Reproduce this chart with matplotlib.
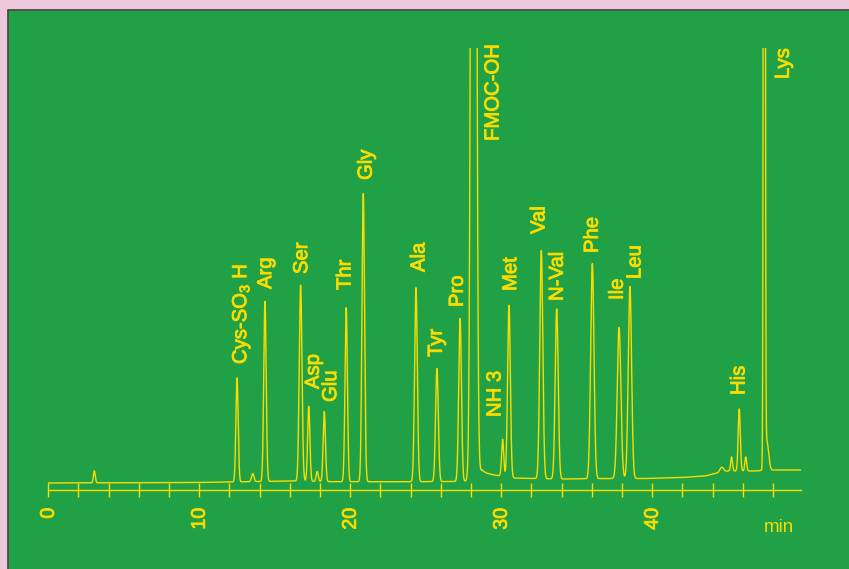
import numpy as np
import matplotlib
matplotlib.use("Agg")
import matplotlib.pyplot as plt
import matplotlib.patheffects as pe
from matplotlib.patches import Rectangle
from matplotlib.lines import Line2D
from matplotlib.ticker import FixedLocator

plt.rcParams['font.family'] = ['Liberation Sans', 'DejaVu Sans']
plt.rcParams['mathtext.fontset'] = 'custom'
plt.rcParams['mathtext.rm'] = 'Liberation Sans'
plt.rcParams['mathtext.it'] = 'Liberation Sans:italic'
plt.rcParams['mathtext.bf'] = 'Liberation Sans:bold'

# ---------------- data ----------------
# retention time (min), peak height above baseline (detector units), peak width (sigma, min)
peak_names = ["", "Cys-SO$_3$ H", "", "Arg", "Ser", "Asp", "", "Glu", "Thr", "Gly",
              "Ala", "Tyr", "Pro", "FMOC-OH", "NH 3", "Met", "Val", "N-Val",
              "Phe", "Ile", "Leu", "", "", "His", "", "Lys", ""]
peak_times = [3.05, 12.50, 13.54, 14.35, 16.71, 17.25, 17.81, 18.28, 19.73, 20.86,
              24.35, 25.74, 27.27, 28.17, 30.09, 30.51, 32.65, 33.67,
              36.03, 37.80, 38.52, 44.60, 45.25, 45.76, 46.19, 47.42, 47.58]
peak_heights = [12, 104, 8, 180, 196, 75, 10, 70, 174, 288,
                194, 113, 163, 2250, 37, 172, 228, 170,
                215, 151, 192, 5, 14, 62, 14, 2000, 30]
peak_sigmas = [0.06, 0.075, 0.08, 0.08, 0.09, 0.075, 0.07, 0.075, 0.08, 0.085,
               0.09, 0.09, 0.09, 0.128, 0.07, 0.09, 0.10, 0.10,
               0.11, 0.12, 0.11, 0.12, 0.06, 0.07, 0.06, 0.045, 0.12]

# baseline level (detector units) along the run
baseline_times = [0, 10, 12, 16, 19, 24, 27, 28.3, 28.7, 29.0, 29.5, 30.0, 30.8, 31.5,
                  34, 37, 39.5, 42, 43.5, 44.3, 45.0, 46.8, 48.0, 49.85]
baseline_levels = [7, 7.5, 8, 9, 8.3, 8.3, 8.5, 9, 20, 17, 15, 14, 12, 11.7,
                   11, 11.5, 11.5, 12.5, 14, 17, 19, 19, 20, 20]

x_ticks_major = [0, 10, 20, 30, 40]
x_ticks_minor = [2, 4, 6, 8, 12, 14, 16, 18, 22, 24, 26, 28, 32, 34, 36, 38, 42, 44, 46, 48]
x_unit = "min"

# ---------------- layout ----------------
W, H = 849, 569
PINK = "#F0C8DC"
GREEN = "#21A146"
YELLOW = "#FADC00"
FS = 14.6
FS_TICK = 14.2
FS_UNIT = 13.5
THICK = [pe.withStroke(linewidth=0.6, foreground=YELLOW)]

# label anchors in pixel space: (baseline x, start y)
label_pos = {
    "Cys-SO$_3$ H": (246.2, 364), "Arg": (271.2, 289), "Ser": (307.2, 274),
    "Asp": (318.8, 389), "Glu": (336.2, 402), "Thr": (350.5, 290),
    "Gly": (371.7, 180), "Ala": (424.5, 272), "Tyr": (441.8, 357),
    "Pro": (462.8, 307), "FMOC-OH": (498.5, 141), "NH 3": (500.5, 417),
    "Met": (516.2, 291), "Val": (544.5, 234), "N-Val": (562.8, 301),
    "Phe": (597.8, 253), "Ile": (622.8, 300), "Leu": (640.5, 279),
    "His": (744.5, 395), "Lys": (788.8, 79),
}

x0_px, xmax_px, axis_y_px, top_px = 48.3, 801.0, 490.0, 48.0
xmax = 49.85
px_per_min = (xmax_px - x0_px) / xmax

fig = plt.figure(figsize=(W / 100, H / 100), dpi=100)
fig.patch.set_facecolor(PINK)
bg = Rectangle((8 / W, 0), 1 - 8 / W, (H - 10) / H, transform=fig.transFigure,
               facecolor=GREEN, edgecolor="none", zorder=-10)
fig.add_artist(bg)
fig.add_artist(Line2D([8 / W, 8 / W, 1], [0, (H - 10) / H, (H - 10) / H],
                      transform=fig.transFigure, color="#4a4a4a", lw=1.3, zorder=-9))

ax = fig.add_axes([x0_px / W, (H - axis_y_px) / H, (xmax_px - x0_px) / W,
                   (axis_y_px - top_px) / H])
ax.set_facecolor("none")
ax.set_zorder(5)

t = np.arange(0, xmax + 1e-9, 0.004)
signal = np.interp(t, baseline_times, baseline_levels)
for tc, h, s in zip(peak_times, peak_heights, peak_sigmas):
    signal = signal + h * np.exp(-0.5 * ((t - tc) / s) ** 2)
ax.plot(t, signal, color=YELLOW, lw=1.0)

ax.set_xlim(0, xmax)
ax.set_ylim(0, axis_y_px - top_px)
for s in ("top", "left", "right"):
    ax.spines[s].set_visible(False)
ax.spines["bottom"].set_color(YELLOW)
ax.spines["bottom"].set_linewidth(1.0)
ax.set_yticks([])
ax.xaxis.set_major_locator(FixedLocator(x_ticks_major))
ax.xaxis.set_minor_locator(FixedLocator(x_ticks_minor))
ax.set_xticklabels([str(v) for v in x_ticks_major])
ax.tick_params(axis="x", which="both", direction="inout", length=9.4, width=1.0,
               color=YELLOW)
ax.tick_params(axis="x", which="major", labelrotation=90, labelsize=FS_TICK,
               labelcolor=YELLOW, pad=8.0)
for lbl in ax.get_xticklabels():
    lbl.set_path_effects(THICK)

for name, (bx, sy) in label_pos.items():
    ax.text((bx - x0_px) / px_per_min, axis_y_px - sy, name, rotation=90,
            rotation_mode="anchor", ha="left", va="baseline", fontsize=FS,
            color=YELLOW, clip_on=False, path_effects=THICK)

fig.text(778.7 / W, 1 - 527.5 / H, x_unit, ha="center", va="center",
         fontsize=FS_UNIT, color=YELLOW, zorder=6)

fig.savefig("out.png", dpi=100, facecolor=fig.get_facecolor())
